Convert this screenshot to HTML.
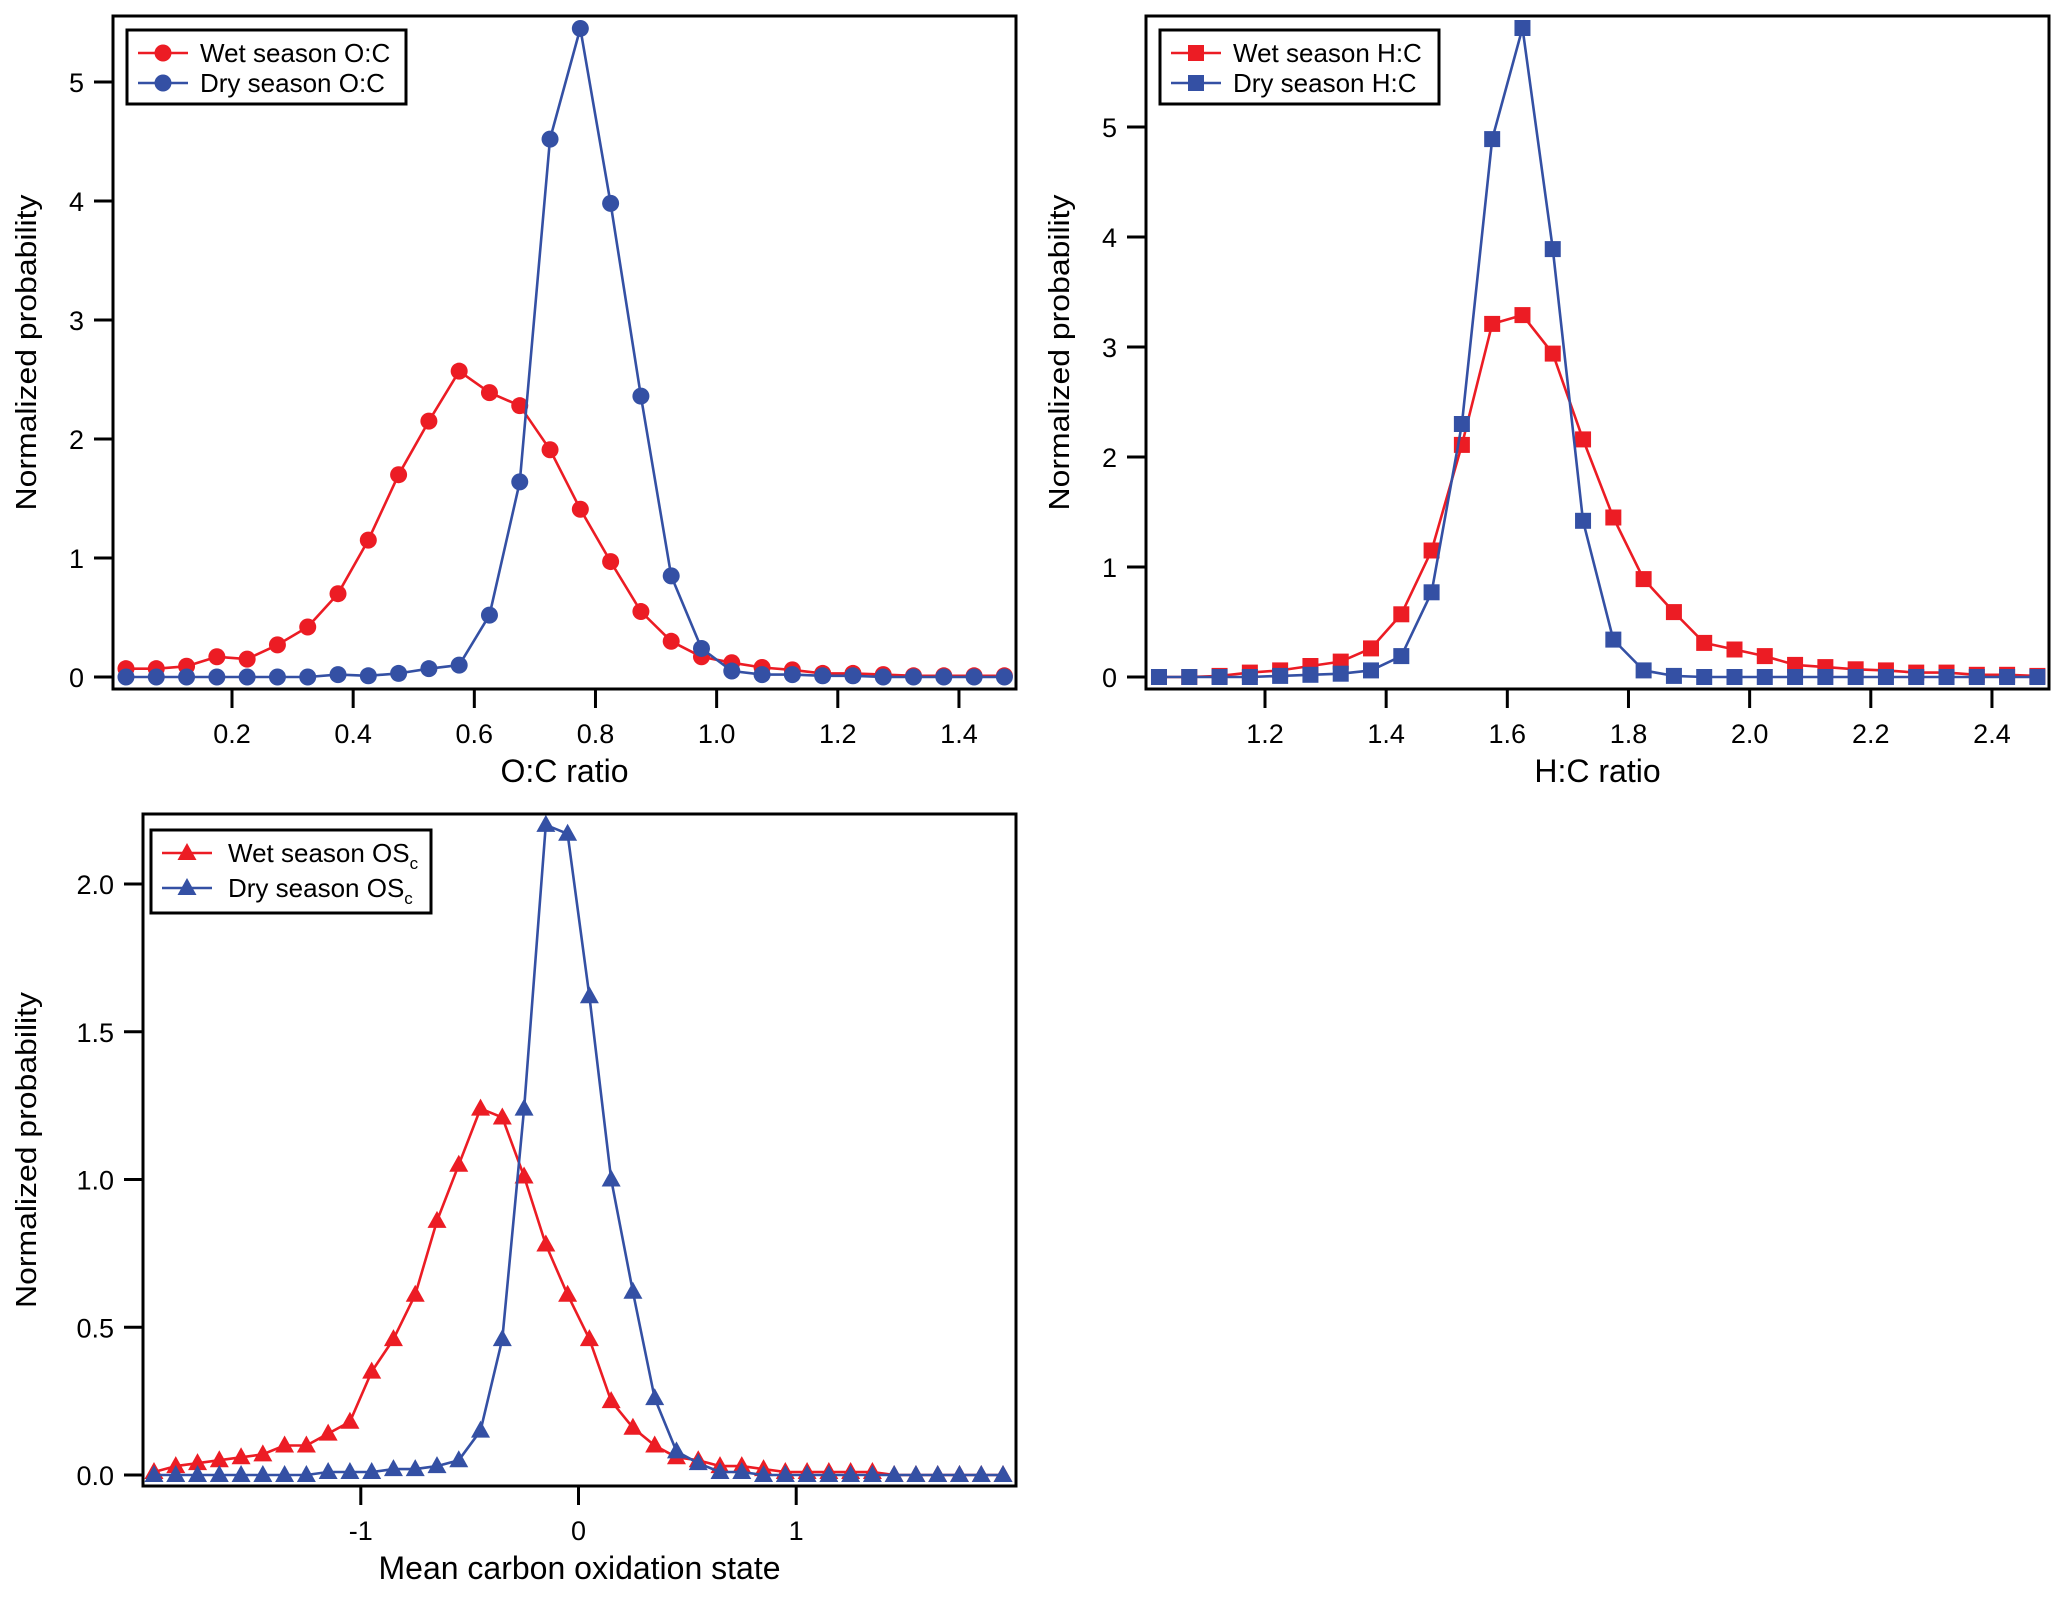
<!DOCTYPE html>
<html><head><meta charset="utf-8"><style>
html,body{margin:0;padding:0;background:#fff;}
svg{display:block;font-family:"Liberation Sans",Arial,sans-serif;}
</style></head><body>
<svg id="chart" width="2067" height="1597" viewBox="0 0 2067 1597" xmlns="http://www.w3.org/2000/svg"></svg>
<script>
// ---- data ----
const ocX = [0.025,0.075,0.125,0.175,0.225,0.275,0.325,0.375,0.425,0.475,0.525,0.575,0.625,0.675,0.725,0.775,0.825,0.875,0.925,0.975,1.025,1.075,1.125,1.175,1.225,1.275,1.325,1.375,1.425,1.475];
const ocWet = [0.07,0.07,0.09,0.17,0.15,0.27,0.42,0.70,1.15,1.70,2.15,2.57,2.39,2.28,1.91,1.41,0.97,0.55,0.30,0.17,0.12,0.08,0.06,0.03,0.03,0.02,0.01,0.01,0.01,0.01];
const ocDry = [0,0,0,0,0,0,0,0.02,0.01,0.03,0.07,0.10,0.52,1.64,4.52,5.45,3.98,2.36,0.85,0.24,0.05,0.02,0.02,0.01,0.01,0,0,0,0,0];
const hcX = [1.025,1.075,1.125,1.175,1.225,1.275,1.325,1.375,1.425,1.475,1.525,1.575,1.625,1.675,1.725,1.775,1.825,1.875,1.925,1.975,2.025,2.075,2.125,2.175,2.225,2.275,2.325,2.375,2.425,2.475];
const hcWet = [0,0,0.01,0.04,0.06,0.10,0.14,0.26,0.57,1.15,2.11,3.21,3.29,2.94,2.16,1.45,0.89,0.59,0.31,0.25,0.19,0.11,0.09,0.07,0.06,0.04,0.04,0.02,0.02,0.01];
const hcDry = [0,0,0,0,0.01,0.02,0.03,0.06,0.19,0.77,2.30,4.89,5.90,3.89,1.42,0.34,0.06,0.01,0,0,0,0,0,0,0,0,0,0,0,0];
const osX = [-1.95,-1.85,-1.75,-1.65,-1.55,-1.45,-1.35,-1.25,-1.15,-1.05,-0.95,-0.85,-0.75,-0.65,-0.55,-0.45,-0.35,-0.25,-0.15,-0.05,0.05,0.15,0.25,0.35,0.45,0.55,0.65,0.75,0.85,0.95,1.05,1.15,1.25,1.35,1.45,1.55,1.65,1.75,1.85,1.95];
const osWet = [0.01,0.03,0.04,0.05,0.06,0.07,0.10,0.10,0.14,0.18,0.35,0.46,0.61,0.86,1.05,1.24,1.21,1.01,0.78,0.61,0.46,0.25,0.16,0.10,0.06,0.05,0.03,0.03,0.02,0.01,0.01,0.01,0.01,0.01,0,0,0,0,0,0];
const osDry = [0,0,0,0,0,0,0,0,0.01,0.01,0.01,0.02,0.02,0.03,0.05,0.15,0.46,1.24,2.20,2.17,1.62,1.00,0.62,0.26,0.08,0.04,0.01,0.01,0,0,0,0,0,0,0,0,0,0,0,0];
const ocXTicks = [0.2,0.4,0.6,0.8,1.0,1.2,1.4];
const ocXLabels = ["0.2","0.4","0.6","0.8","1.0","1.2","1.4"];
const ocYTicks = [0,1,2,3,4,5];
const ocYLabels = ["0","1","2","3","4","5"];
const hcXTicks = [1.2,1.4,1.6,1.8,2.0,2.2,2.4];
const hcXLabels = ["1.2","1.4","1.6","1.8","2.0","2.2","2.4"];
const hcYTicks = [0,1,2,3,4,5];
const hcYLabels = ["0","1","2","3","4","5"];
const osXTicks = [-1,0,1];
const osXLabels = ["-1","0","1"];
const osYTicks = [0,0.5,1.0,1.5,2.0];
const osYLabels = ["0.0","0.5","1.0","1.5","2.0"];

const NS = "http://www.w3.org/2000/svg";
const svg = document.getElementById('chart');
const RED = "#ec1c24", BLUE = "#3450a4";
function mk(tag, attrs, parent){
  const e = document.createElementNS(NS, tag);
  for (const k in attrs) e.setAttribute(k, attrs[k]);
  (parent||svg).appendChild(e);
  return e;
}
function marker(g, shape, cx, cy, color){
  let m;
  if (shape==='circle') m = mk('circle',{cx:cx,cy:cy,r:8.5,fill:color},g);
  else if (shape==='square') m = mk('rect',{x:cx-8,y:cy-8,width:16,height:16,fill:color},g);
  else m = mk('polygon',{points:`${cx},${cy-10} ${cx+9.5},${cy+7} ${cx-9.5},${cy+7}`,fill:color},g);
  return m;
}
function panel(cfg){
  const g = mk('g',{});
  
  
  const X = v => cfg.x0px + (v - cfg.x0v) * cfg.xs;
  const Y = v => cfg.y0px - v * cfg.ys;
  [[cfg.wet,RED,'wet'],[cfg.dry,BLUE,'dry']].forEach(([vals,col,nm])=>{
    const sg = mk('g',{},g);
    
    
    const pts = cfg.xs_data.map((xv,i)=>X(xv).toFixed(1)+','+Y(vals[i]).toFixed(1)).join(' ');
    const pl = mk('polyline',{points:pts,fill:'none',stroke:col,'stroke-width':2.6,'stroke-linejoin':'round'},sg);
    
    
    cfg.xs_data.forEach((xv,i)=>{
      const m = marker(sg, cfg.shape, X(xv), Y(vals[i]), col);
      
      
    });
  });
  const fr = mk('rect',{x:cfg.L,y:cfg.T,width:cfg.R-cfg.L,height:cfg.B-cfg.T,fill:'none',stroke:'#000','stroke-width':3},g);
  
  
  cfg.xt.forEach((t,i)=>{
    const x = X(t);
    const tk = mk('line',{x1:x,y1:cfg.B,x2:x,y2:cfg.B+19,stroke:'#000','stroke-width':3},g);
    
    
    const tl = mk('text',{x:x,y:cfg.B+54,'font-size':27,'text-anchor':'middle',fill:'#000'},g);
    tl.textContent = cfg.xl[i];
    
    
  });
  cfg.yt.forEach((t,i)=>{
    const y = Y(t);
    const tk = mk('line',{x1:cfg.L-19,y1:y,x2:cfg.L,y2:y,stroke:'#000','stroke-width':3},g);
    
    
    const tl = mk('text',{x:cfg.L-29,y:y+10,'font-size':27,'text-anchor':'end',fill:'#000'},g);
    tl.textContent = cfg.yl[i];
    
    
  });
  const xt = mk('text',{x:(cfg.L+cfg.R)/2,y:cfg.B+93,'font-size':32,'text-anchor':'middle',fill:'#000'},g);
  xt.textContent = cfg.xtitle;
  
  
  const yc = (cfg.T+cfg.B)/2, yx = cfg.ytx;
  const yt = mk('text',{x:yx,y:yc,'font-size':29,'text-anchor':'middle',fill:'#000',transform:`rotate(-90 ${yx} ${yc})`,textLength:316,lengthAdjust:'spacingAndGlyphs'},g);
  yt.textContent = 'Normalized probability';
  
  
  const lg = mk('g',{},g);
  
  
  const lb = cfg.leg;
  mk('rect',{x:lb.x,y:lb.y,width:lb.w,height:lb.h,fill:'#fff',stroke:'#000','stroke-width':3},lg);
  [[RED,cfg.wetLabel,lb.r1,'wet'],[BLUE,cfg.dryLabel,lb.r2,'dry']].forEach(([col,lab,ry,nm])=>{
    const e = mk('g',{},lg);
    
    
    mk('line',{x1:lb.x+11,y1:ry,x2:lb.x+61,y2:ry,stroke:col,'stroke-width':2.6},e);
    marker(e, cfg.shape, lb.x+36, ry, col);
    const t = mk('text',{x:lb.tx,y:ry+9,'font-size':26,fill:'#000'},e);
    t.innerHTML = lab;
  });
}
panel({name:'oc-ratio-panel',shape:'circle',L:113,R:1016,T:16,B:689,x0px:232,x0v:0.2,xs:605.8,y0px:677,ys:119,ytx:36,
  xs_data:ocX,wet:ocWet,dry:ocDry,xt:ocXTicks,xl:ocXLabels,yt:ocYTicks,yl:ocYLabels,xtitle:'O:C ratio',
  leg:{x:127,y:30,w:279,h:74,r1:53,r2:83,tx:200},wetLabel:'Wet season O:C',dryLabel:'Dry season O:C'});
panel({name:'hc-ratio-panel',shape:'square',L:1146,R:2049,T:16,B:689,x0px:1265,x0v:1.2,xs:605.8,y0px:677,ys:110,ytx:1069,
  xs_data:hcX,wet:hcWet,dry:hcDry,xt:hcXTicks,xl:hcXLabels,yt:hcYTicks,yl:hcYLabels,xtitle:'H:C ratio',
  leg:{x:1160,y:30,w:279,h:74,r1:53,r2:83,tx:1233},wetLabel:'Wet season H:C',dryLabel:'Dry season H:C'});
panel({name:'osc-panel',shape:'triangle',L:143,R:1016,T:814,B:1486,x0px:578.5,x0v:0,xs:217.7,y0px:1475,ys:295.5,ytx:36,
  xs_data:osX,wet:osWet,dry:osDry,xt:osXTicks,xl:osXLabels,yt:osYTicks,yl:osYLabels,xtitle:'Mean carbon oxidation state',
  leg:{x:151,y:830,w:280,h:83,r1:853,r2:888,tx:228},
  wetLabel:'Wet season OS<tspan font-size="17" dy="7">c</tspan>',dryLabel:'Dry season OS<tspan font-size="17" dy="7">c</tspan>'});
</script>
</body></html>
